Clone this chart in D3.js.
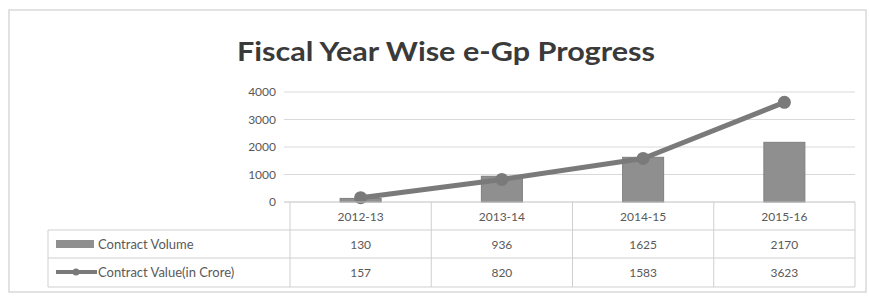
<!DOCTYPE html>
<html>
<head>
<meta charset="utf-8">
<script src="https://cdn.jsdelivr.net/npm/d3@7"></script>
<style>
  body { margin: 0; background: #fff; }
  svg { display: block; }
</style>
</head>
<body>
<div id="chart"></div>
<script>
// chart data
const categories = ['2012-13', '2013-14', '2014-15', '2015-16'];
const contractVolume = [130, 936, 1625, 2170];
const contractValue = [157, 820, 1583, 3623];
const yTicks = [0, 1000, 2000, 3000, 4000];
const seriesNames = ['Contract Volume', 'Contract Value(in Crore)'];

const width = 869, height = 297;
const plot = { left: 290, right: 855, top: 92, bottom: 202 };
const rows = { header: 230, row1: 258, bottom: 287, left: 48 };

const svg = d3.select('#chart').append('svg')
    .attr('width', width)
    .attr('height', height);

// outer frame
svg.append('rect')
    .attr('x', 9).attr('y', 10)
    .attr('width', 857).attr('height', 282)
    .attr('fill', '#fff')
    .attr('stroke', '#d9d9d9')
    .attr('stroke-width', 1.5);

// title
svg.append('text')
    .attr('x', 446).attr('y', 61)
    .attr('text-anchor', 'middle')
    .attr('font-family', 'Lato, "Open Sans", sans-serif')
    .attr('font-weight', 'bold')
    .attr('font-size', 27)
    .attr('fill', '#3a3a3a')
    .attr('textLength', 418)
    .attr('lengthAdjust', 'spacingAndGlyphs')
    .text('Fiscal Year Wise e-Gp Progress');

const x = d3.scaleBand()
    .domain(categories)
    .range([plot.left, plot.right]);

const y = d3.scaleLinear()
    .domain([0, 4000])
    .range([plot.bottom, plot.top]);

// gridlines
svg.append('g')
    .selectAll('line')
    .data(yTicks.filter(d => d > 0))
    .enter()
    .append('line')
    .attr('x1', plot.left - 6).attr('x2', plot.right)
    .attr('y1', d => y(d)).attr('y2', d => y(d))
    .attr('stroke', '#d9d9d9')
    .attr('stroke-width', 1);

// y axis labels
const yAxis = d3.axisLeft(y).tickValues(yTicks).tickFormat(d3.format('d'))
    .tickSize(0).tickPadding(14);
const yg = svg.append('g')
    .attr('transform', `translate(${plot.left},0)`)
    .call(yAxis);
yg.select('.domain').remove();
yg.selectAll('text')
    .attr('font-family', 'Lato, "Open Sans", sans-serif')
    .attr('font-size', 12)
    .attr('fill', '#595959');

// bars
const barW = 41;
svg.append('g')
    .selectAll('rect')
    .data(categories)
    .enter()
    .append('rect')
    .attr('x', d => x(d) + x.bandwidth() / 2 - barW / 2)
    .attr('y', (d, i) => y(contractVolume[i]))
    .attr('width', barW)
    .attr('height', (d, i) => y(0) - y(contractVolume[i]))
    .attr('fill', '#8f8f8f')
    .attr('stroke', '#7f7f7f')
    .attr('stroke-width', 1);

// line
const line = d3.line()
    .x((d, i) => x(categories[i]) + x.bandwidth() / 2)
    .y(d => y(d));

svg.append('path')
    .datum(contractValue)
    .attr('d', line)
    .attr('fill', 'none')
    .attr('stroke', '#7a7a7a')
    .attr('stroke-width', 5)
    .attr('stroke-linecap', 'round')
    .attr('stroke-linejoin', 'round');

svg.append('g')
    .selectAll('circle')
    .data(contractValue)
    .enter()
    .append('circle')
    .attr('cx', (d, i) => x(categories[i]) + x.bandwidth() / 2)
    .attr('cy', d => y(d))
    .attr('r', 6.5)
    .attr('fill', '#7a7a7a');

// data table grid
const grid = svg.append('g')
    .attr('stroke', '#cfcfcf')
    .attr('stroke-width', 1);

grid.append('line')
    .attr('x1', plot.left - 6).attr('x2', plot.right)
    .attr('y1', plot.bottom).attr('y2', plot.bottom)
    .attr('stroke', '#bfbfbf');

[rows.header, rows.row1, rows.bottom].forEach(yy => {
    grid.append('line')
        .attr('x1', rows.left).attr('x2', plot.right)
        .attr('y1', yy).attr('y2', yy);
});

const colEdges = categories.map(c => x(c)).concat([plot.right]);
colEdges.forEach(xx => {
    grid.append('line')
        .attr('x1', xx).attr('x2', xx)
        .attr('y1', plot.bottom).attr('y2', rows.bottom);
});
grid.append('line')
    .attr('x1', rows.left).attr('x2', rows.left)
    .attr('y1', rows.header).attr('y2', rows.bottom);

const textFont = 'Lato, "Open Sans", sans-serif';

// category labels
svg.append('g')
    .selectAll('text')
    .data(categories)
    .enter()
    .append('text')
    .attr('x', d => x(d) + x.bandwidth() / 2)
    .attr('y', 221)
    .attr('text-anchor', 'middle')
    .attr('font-family', textFont)
    .attr('font-size', 12)
    .attr('fill', '#595959')
    .text(d => d);

// table values
[contractVolume, contractValue].forEach((vals, r) => {
    svg.append('g')
        .selectAll('text')
        .data(vals)
        .enter()
        .append('text')
        .attr('x', (d, i) => x(categories[i]) + x.bandwidth() / 2)
        .attr('y', r === 0 ? 249 : 277)
        .attr('text-anchor', 'middle')
        .attr('font-family', textFont)
        .attr('font-size', 12)
        .attr('fill', '#595959')
        .text(d => d);
});

// legend keys
svg.append('rect')
    .attr('x', 56).attr('y', 240)
    .attr('width', 38).attr('height', 8)
    .attr('fill', '#8f8f8f');

svg.append('line')
    .attr('x1', 56).attr('x2', 97)
    .attr('y1', 272).attr('y2', 272)
    .attr('stroke', '#7a7a7a')
    .attr('stroke-width', 4);
svg.append('circle')
    .attr('cx', 76).attr('cy', 272)
    .attr('r', 3.5)
    .attr('fill', '#7a7a7a');

seriesNames.forEach((name, i) => {
    svg.append('text')
        .attr('x', 98)
        .attr('y', i === 0 ? 249 : 277)
        .attr('font-family', textFont)
        .attr('font-size', 13)
        .attr('fill', '#595959')
        .text(name);
});
</script>
</body>
</html>
